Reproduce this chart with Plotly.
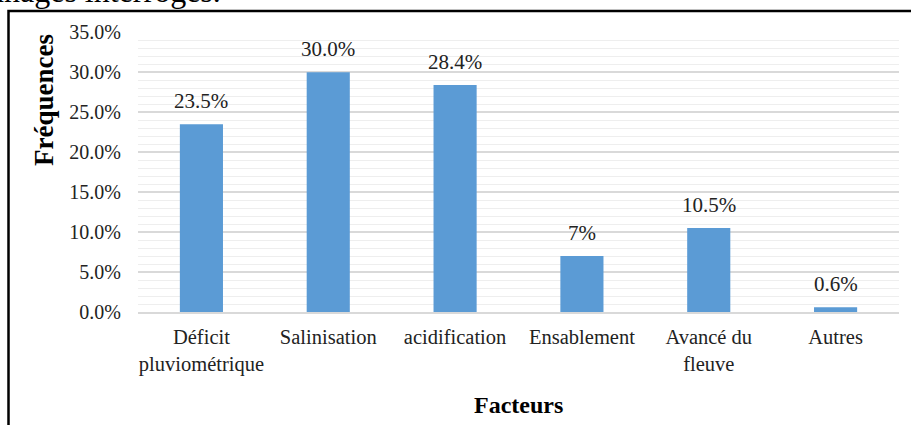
import plotly.graph_objects as go

categories = ["Déficit<br>pluviométrique", "Salinisation", "acidification", "Ensablement", "Avancé du<br>fleuve", "Autres"]
values = [23.5, 30.0, 28.4, 7.0, 10.5, 0.6]
value_labels = ["23.5%", "30.0%", "28.4%", "7%", "10.5%", "0.6%"]
y_ticks = [0, 5, 10, 15, 20, 25, 30, 35]
y_tick_labels = ["0.0%", "5.0%", "10.0%", "15.0%", "20.0%", "25.0%", "30.0%", "35.0%"]

W, H = 911, 425
L, R, T, B = 138, 12, 32, 113
PW, PH = W - L - R, H - T - B

def px_x(px):
    return (px - L) / PW

def px_y(py):
    return (H - B - py) / PH

FONT = "Liberation Serif, Times New Roman, serif"

fig = go.Figure()
fig.add_trace(go.Bar(x=categories, y=values, marker_color="#5B9BD5",
                     marker_line_width=0, width=0.34, showlegend=False, hoverinfo="skip"))

annotations = []
for c, v, t in zip(categories, values, value_labels):
    annotations.append(dict(x=c, y=v, xref="x", yref="y", text=t, showarrow=False,
                            yanchor="bottom", yshift=9,
                            font=dict(family=FONT, size=21, color="#222")))

annotations.append(dict(x=px_x(44), y=px_y(100), xref="paper", yref="paper", text="<b>Fréquences</b>",
                        textangle=-90, showarrow=False, xanchor="center", yanchor="middle",
                        font=dict(family=FONT, size=27, color="#000")))
annotations.append(dict(x=0.5, y=px_y(405), xref="paper", yref="paper", text="<b>Facteurs</b>",
                        showarrow=False, xanchor="center", yanchor="middle",
                        font=dict(family=FONT, size=24, color="#000")))
annotations.append(dict(x=px_x(223), y=px_y(10.5), xref="paper", yref="paper", text="onnages interrogés.",
                        showarrow=False, xanchor="right", yanchor="bottom",
                        font=dict(family=FONT, size=32, color="#000")))

fig.update_layout(
    width=W, height=H,
    margin=dict(l=L, r=R, t=T, b=B),
    paper_bgcolor="white", plot_bgcolor="white",
    bargap=0.66,
    annotations=annotations,
    shapes=[dict(type="rect", xref="paper", yref="paper",
                 x0=px_x(8.5), x1=px_x(930), y0=px_y(440), y1=px_y(11),
                 line=dict(color="black", width=2.5), layer="above")],
    font=dict(family=FONT, size=20, color="#222"),
)
fig.update_yaxes(range=[0, 35.05], tickvals=y_ticks, ticktext=y_tick_labels,
                 showgrid=True, gridcolor="#d9d9d9", gridwidth=1.5,
                 minor=dict(dtick=1, showgrid=True, gridcolor="#eeeeee", gridwidth=1.2),
                 zeroline=False, showline=False, ticks="", ticklabelstandoff=16,
                 tickfont=dict(family=FONT, size=20, color="#222"))
fig.update_xaxes(showgrid=False, showline=True, linecolor="#d9d9d9", linewidth=1.5,
                 ticks="", ticklabelstandoff=6,
                 tickfont=dict(family=FONT, size=20.5, color="#222"))

fig.write_html("out.html", config={"displayModeBar": False},
               post_script="document.body.style.margin='0';document.body.style.overflow='hidden';")
